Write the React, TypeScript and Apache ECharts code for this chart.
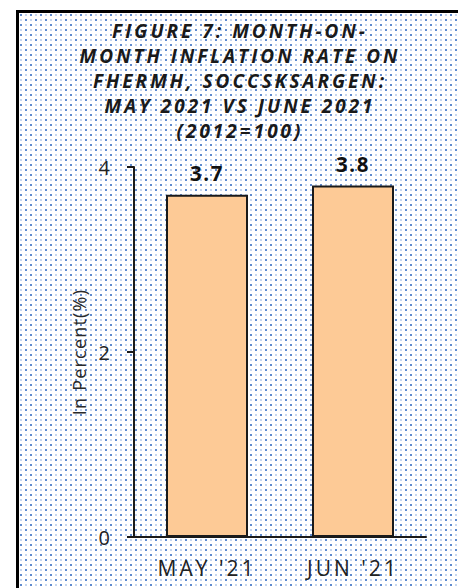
import React, { useEffect, useRef } from "react";
import * as echarts from "echarts";

const titleLines = [
  "FIGURE 7: MONTH-ON-",
  "MONTH INFLATION RATE ON",
  "FHERMH, SOCCSKSARGEN:",
  "MAY 2021 VS JUNE 2021",
  "(2012=100)",
];
const categories = ["MAY '21", "JUN '21"];
const values = [3.7, 3.8];
const yAxisName = "In Percent(%)";
const yMin = 0;
const yMax = 4;
const yInterval = 2;

const FONT = "'Open Sans', 'Noto Sans', sans-serif";

export default function App() {
  const ref = useRef<HTMLDivElement>(null);
  useEffect(() => {
    if (!ref.current) return;
    const chart = echarts.init(ref.current, undefined, { renderer: "svg" });
    chart.setOption({
      animation: false,
      backgroundColor: "transparent",
      graphic: [
        {
          type: "text",
          x: 240,
          y: 18,
          z: 10,
          style: {
            text: titleLines.join("\n"),
            textAlign: "center",
            textVerticalAlign: "top",
            fontFamily: FONT,
            fontSize: 19,
            fontWeight: "bold",
            fontStyle: "italic",
            lineHeight: 25,
            fill: "#1a1a1a",
          },
        },
      ],
      grid: { left: 134, right: 32, top: 167, bottom: 51, containLabel: false },
      xAxis: {
        type: "category",
        data: categories,
        axisLine: { show: true, lineStyle: { color: "#1a1a1a", width: 2 } },
        axisTick: { show: false },
        axisLabel: {
          margin: 20,
          color: "#222",
          fontFamily: FONT,
          fontSize: 21,
        },
        splitLine: { show: false },
      },
      yAxis: {
        type: "value",
        min: yMin,
        max: yMax,
        interval: yInterval,
        name: yAxisName,
        nameLocation: "middle",
        nameGap: 44,
        nameTextStyle: { color: "#2a2a2a", fontFamily: FONT, fontSize: 18 },
        axisLine: { show: true, lineStyle: { color: "#1a1a1a", width: 2 } },
        axisTick: { show: true, inside: false, length: 7, lineStyle: { color: "#1a1a1a", width: 2 } },
        axisLabel: { margin: 24, color: "#222", fontFamily: FONT, fontSize: 20 },
        splitLine: { show: false },
      },
      series: [
        {
          type: "bar",
          data: values,
          barWidth: 82,
          itemStyle: { color: "#FDCA96", borderColor: "#1a1a1a", borderWidth: 2 },
          label: {
            show: true,
            position: "top",
            distance: 11,
            color: "#111",
            fontFamily: FONT,
            fontSize: 20.5,
            fontWeight: "bold",
            formatter: (p: any) => Number(p.value).toFixed(1),
          },
        },
      ],
    });
    return () => chart.dispose();
  }, []);

  const css = `
    .chartbox svg text[style*="19px"] { letter-spacing: 3px; }
    .chartbox svg text[style*="21px"] { letter-spacing: 3px; }
    .chartbox svg text[style*="18px"] { letter-spacing: 1.2px; }
    .chartbox svg text[style*="20.5px"] { letter-spacing: 1.5px; }
  `;

  return (
    <div style={{ position: "fixed", left: 0, top: 0, width: 458, height: 588, background: "#fff", overflow: "hidden" }}>
      <style>{css}</style>
      <div
        style={{
          position: "absolute",
          left: 16,
          top: 10,
          width: 480,
          height: 600,
          boxSizing: "border-box",
          borderLeft: "3px solid #000",
          borderTop: "3px solid #000",
          backgroundColor: "#fff",
          backgroundImage:
            "radial-gradient(circle at 2px 2px, rgba(55,110,195,0.8) 0.8px, rgba(55,110,195,0) 1.4px), radial-gradient(circle at 7px 7px, rgba(55,110,195,0.8) 0.8px, rgba(55,110,195,0) 1.4px), radial-gradient(circle at 7px 2px, rgba(130,165,220,0.45) 0.7px, rgba(130,165,220,0) 1.3px), radial-gradient(circle at 2px 7px, rgba(130,165,220,0.45) 0.7px, rgba(130,165,220,0) 1.3px)",
          backgroundSize: "10px 10px, 10px 10px, 10px 10px, 10px 10px",
          backgroundPosition: "0 0, 0 0, 0 0, 0 0",
        }}
      />
      <div className="chartbox" ref={ref} style={{ position: "absolute", left: 0, top: 0, width: 458, height: 588 }} />
    </div>
  );
}
